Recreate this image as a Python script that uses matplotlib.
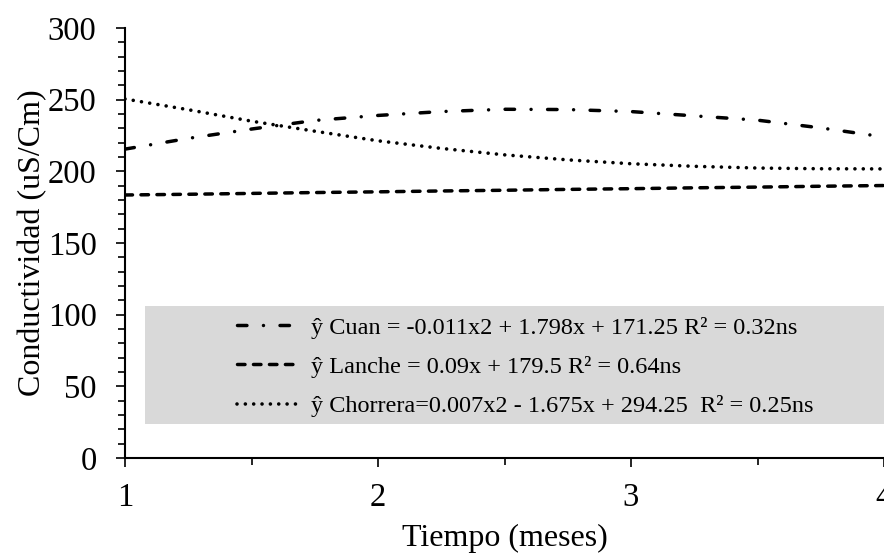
import matplotlib
matplotlib.use("Agg")
import matplotlib.pyplot as plt
from matplotlib.patches import Rectangle
from matplotlib.ticker import MultipleLocator

plt.rcParams['font.family'] = ['Liberation Serif', 'DejaVu Serif']
plt.rcParams['lines.scale_dashes'] = False

# Data
meses = [1.0, 1.25, 1.5, 1.75, 2.0, 2.25, 2.5, 2.75, 3.0, 3.25, 3.5, 3.75, 4.0]
cuan = [215.5, 223.0, 229.5, 235.5, 239.0, 241.7, 243.3, 243.1, 241.7, 238.7, 235.7, 230.3, 224.0]
lanche = [183.5, 184.0, 184.6, 185.2, 185.7, 186.3, 186.8, 187.4, 187.9, 188.5, 189.0, 189.6, 190.1]
chorrera = [250.5, 243.0, 235.0, 228.0, 221.3, 216.0, 211.5, 208.0, 205.3, 203.5, 202.3, 201.8, 201.7]

labels = [
    "ŷ Cuan = -0.011x2 + 1.798x + 171.25 R² = 0.32ns",
    "ŷ Lanche = 0.09x + 179.5 R² = 0.64ns",
    "ŷ Chorrera=0.007x2 - 1.675x + 294.25  R² = 0.25ns",
]

fig = plt.figure(figsize=(8.84, 5.55), dpi=100)
ax = fig.add_axes([125/884, 97/555, 759/884, 430/555])

l1, = ax.plot(meses, cuan, color='black', lw=2.5, dash_capstyle='round',
              dashes=(6.8, 11.9, 0.01, 11.9), label=labels[0])
l2, = ax.plot(meses, lanche, color='black', lw=2.5, dash_capstyle='round',
              dashes=(5.4, 6.1), label=labels[1])
l3, = ax.plot(meses, chorrera, color='black', lw=2.6, dash_capstyle='round',
              dashes=(0.01, 6.0), label=labels[2])

ax.set_xlim(1, 4)
ax.set_ylim(0, 300)
ax.xaxis.set_major_locator(MultipleLocator(1))
ax.xaxis.set_minor_locator(MultipleLocator(0.5))
ax.yaxis.set_major_locator(MultipleLocator(50))
ax.yaxis.set_minor_locator(MultipleLocator(10))

for s in ['top', 'right']:
    ax.spines[s].set_visible(False)
for s in ['left', 'bottom']:
    ax.spines[s].set_linewidth(1.5)

ax.tick_params(axis='both', which='major', direction='out', length=6.5, width=1.2,
               labelsize=23.5)
ax.tick_params(axis='both', which='minor', direction='out', length=5, width=1.2)
ax.tick_params(axis='y', which='major', pad=14)
ax.tick_params(axis='x', which='major', pad=11)

ax.set_xlabel("Tiempo (meses)", fontsize=23, labelpad=8)
ax.set_ylabel("Conductividad (uS/Cm)", fontsize=23, labelpad=0)

ax.add_patch(Rectangle((0.026, 0.079), 0.974, 0.274, transform=ax.transAxes,
                       facecolor='#d9d9d9', edgecolor='none', zorder=0.5))

leg = ax.legend(handles=[l1, l2, l3], loc='upper left',
                bbox_to_anchor=(0.1476, 0.328), frameon=False, fontsize=17.5,
                handlelength=2.6, handletextpad=0.45, borderpad=0,
                borderaxespad=0, labelspacing=0.7)
leg.set_zorder(5)

fig.savefig("out.png", dpi=100)
